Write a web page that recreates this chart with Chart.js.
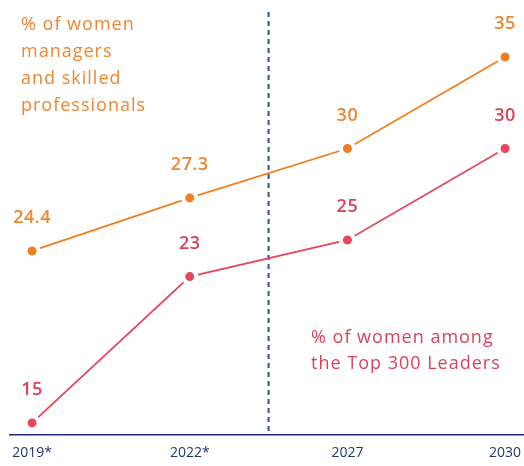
<!DOCTYPE html>
<html>
<head>
<meta charset="utf-8">
<script src="https://cdn.jsdelivr.net/npm/chart.js@4.4.1/dist/chart.umd.min.js"></script>
<style>
  html, body { margin:0; padding:0; background:#fff; overflow:hidden; }
  #wrap { width:524px; height:466px; position:relative; }
  #chart { display:block; }
</style>
</head>
<body>
<div id="wrap"><canvas id="chart"></canvas></div>
<script>
// Share of women: managers/skilled professionals vs. Top 300 leaders
const years = ['2019*', '2022*', '2027', '2030'];
const managers = [24.4, 27.3, 30, 35];
const leaders = [15, 23, 25, 30];

const ORANGE = '#f07f1f';
const ORANGE_TEXT = '#ef8630';
const RED = '#e8455f';
const RED_TEXT = '#de3f5c';
const NAVY = '#1d2b7e';
const FONT = "'Open Sans', 'Noto Sans', sans-serif";

const toPoints = arr => arr.map((v, i) => ({ x: i, y: v }));

// value labels above each point
const valueLabels = {
  id: 'valueLabels',
  afterDatasetsDraw(chart) {
    const { ctx } = chart;
    ctx.save();
    ctx.font = `600 18px ${FONT}`;
    ctx.letterSpacing = '0.5px';
    ctx.textAlign = 'center';
    ctx.textBaseline = 'middle';
    chart.data.datasets.forEach((ds, di) => {
      const meta = chart.getDatasetMeta(di);
      ctx.fillStyle = ds.labelColor;
      meta.data.forEach((pt, i) => {
        ctx.fillText(String(ds.data[i].y), pt.x, pt.y - 33);
      });
    });
    ctx.restore();
  }
};

// dashed divider between actuals and targets
const divider = {
  id: 'divider',
  beforeDatasetsDraw(chart) {
    const { ctx, chartArea, scales } = chart;
    const x = scales.x.getPixelForValue(1.5);
    ctx.save();
    ctx.strokeStyle = '#2a5687';
    ctx.lineWidth = 2;
    ctx.setLineDash([5, 4]);
    ctx.beginPath();
    ctx.moveTo(x, chartArea.top);
    ctx.lineTo(x, chartArea.bottom);
    ctx.stroke();
    ctx.restore();
  }
};

// series captions
const captions = {
  id: 'captions',
  afterDraw(chart) {
    const { ctx } = chart;
    ctx.save();
    ctx.font = `18px ${FONT}`;
    ctx.letterSpacing = '1px';
    ctx.textAlign = 'left';
    ctx.textBaseline = 'alphabetic';
    ctx.fillStyle = ORANGE_TEXT;
    ['% of women', 'managers', 'and skilled', 'professionals'].forEach((t, i) => {
      ctx.fillText(t, 21, 30 + i * 27);
    });
    ctx.fillStyle = RED_TEXT;
    ['% of women among', 'the Top 300 Leaders'].forEach((t, i) => {
      ctx.fillText(t, 311, 343 + i * 26);
    });
    ctx.restore();
  }
};

const pointStyle = color => ({
  borderColor: color,
  backgroundColor: color,
  borderWidth: 1.8,
  pointBackgroundColor: color,
  pointBorderColor: '#ffffff',
  pointBorderWidth: 4,
  pointRadius: 6.5,
  pointHoverRadius: 6.5,
  tension: 0,
  fill: false
});

new Chart(document.getElementById('chart'), {
  type: 'line',
  data: {
    datasets: [
      { label: '% of women managers and skilled professionals', data: toPoints(managers), labelColor: ORANGE_TEXT, ...pointStyle(ORANGE) },
      { label: '% of women among the Top 300 Leaders', data: toPoints(leaders), labelColor: RED_TEXT, ...pointStyle(RED) }
    ]
  },
  options: {
    responsive: true,
    maintainAspectRatio: false,
    animation: false,
    layout: { autoPadding: false, padding: { left: 10, right: 0, top: 12, bottom: 0 } },
    plugins: {
      legend: { display: false },
      tooltip: { enabled: false }
    },
    scales: {
      x: {
        type: 'linear',
        min: -0.14,
        max: 3.12,
        afterBuildTicks: axis => { axis.ticks = years.map((_, i) => ({ value: i })); },
        afterFit: axis => {
          axis.paddingLeft = 0;
          axis.paddingRight = 0;
          axis.height = 31;
        },
        grid: { display: false, drawTicks: false },
        border: { display: true, color: NAVY, width: 1.5 },
        ticks: {
          padding: 10,
          maxRotation: 0,
          color: '#22376c',
          font: { family: FONT, size: 14 },
          callback: v => years[v]
        }
      },
      y: {
        display: false,
        min: 14.34,
        max: 37.46
      }
    }
  },
  plugins: [divider, valueLabels, captions]
});
</script>
</body>
</html>
